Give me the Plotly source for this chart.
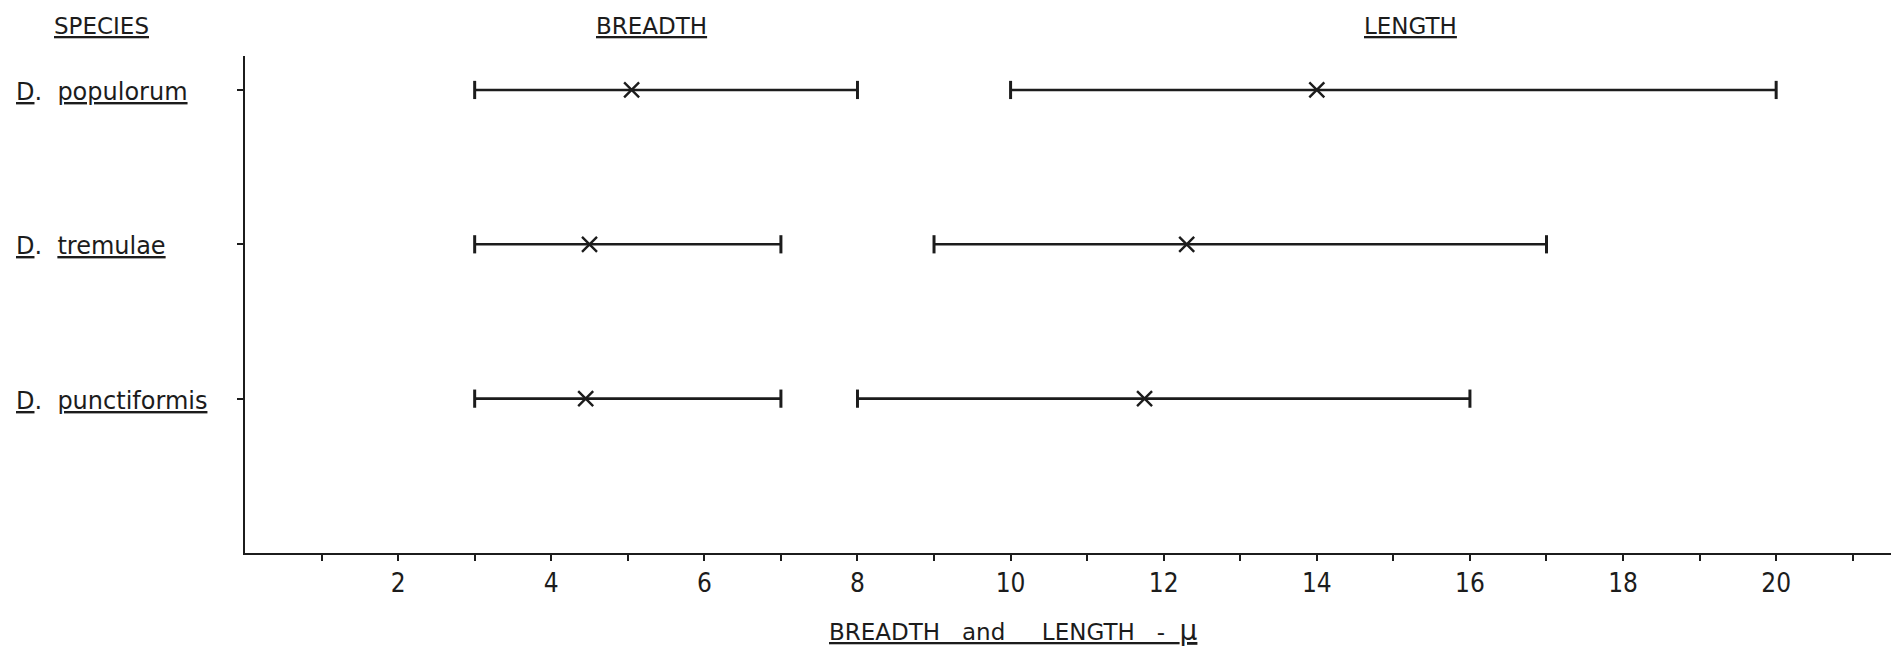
import plotly.graph_objects as go

# Spore dimensions (microns) for three Dothichiza species
species = ["populorum", "tremulae", "punctiformis"]
row_pos = [3, 2, 1]

breadth_min = [3, 3, 3]
breadth_max = [8, 7, 7]
breadth_mean = [5.05, 4.5, 4.45]

length_min = [10, 9, 8]
length_max = [20, 17, 16]
length_mean = [14, 12.3, 11.75]

x_tick_vals = list(range(1, 22))
x_tick_labels = ["", "2", "", "4", "", "6", "", "8", "", "10", "", "12",
                 "", "14", "", "16", "", "18", "", "20", ""]

FONT = "DejaVu Sans, sans-serif"
TICK_FONT = "DejaVu Sans Condensed, DejaVu Sans, sans-serif"
INK = "#1c1c1c"
NB = "\u00a0"

fig = go.Figure()

for lo_list, hi_list, mid_list in [(breadth_min, breadth_max, breadth_mean),
                                   (length_min, length_max, length_mean)]:
    for lo, hi, mid, y in zip(lo_list, hi_list, mid_list, row_pos):
        # range line with end caps
        fig.add_trace(go.Scatter(
            x=[lo, hi], y=[y, y], mode="lines+markers",
            line=dict(color=INK, width=2.6),
            marker=dict(symbol="line-ns", size=13, line=dict(color=INK, width=3)),
            hoverinfo="skip", showlegend=False, cliponaxis=False))
        # mean value
        fig.add_trace(go.Scatter(
            x=[mid], y=[y], mode="markers",
            marker=dict(symbol="x-thin", size=15, line=dict(color=INK, width=2.4)),
            hoverinfo="skip", showlegend=False, cliponaxis=False))

annotations = []
# species names on the left
for name, y in zip(species, row_pos):
    annotations.append(dict(
        text=f"<u>D</u>.{NB*2}<u>{name}</u>", x=(14 - 245) / 1646, xref="paper", y=y, yref="y",
        xanchor="left", yanchor="middle", yshift=-2, showarrow=False,
        font=dict(family=FONT, size=24, color=INK)))

# column headers
for label, xpx in [("SPECIES", 101), ("BREADTH", 651), ("LENGTH", 1410)]:
    annotations.append(dict(
        text=f"<u>{label}</u>", x=(xpx - 245) / 1646, xref="paper",
        y=(553 - 26) / 497, yref="paper", xanchor="center", yanchor="middle",
        showarrow=False, font=dict(family=FONT, size=23, color=INK)))

# axis title
annotations.append(dict(
    text=(f"<u>BREADTH{NB*3}and{NB*5}LENGTH{NB*3}-{NB*2}"
          f"<span style='font-size:28px'>\u03bc</span></u>"),
    x=(827 - 245) / 1646, xref="paper", y=(553 - 630) / 497, yref="paper",
    xanchor="left", yanchor="middle", showarrow=False,
    font=dict(family=FONT, size=23, color=INK)))

fig.update_layout(
    width=1891, height=650,
    margin=dict(l=245, r=0, t=56, b=97, pad=0),
    paper_bgcolor="white", plot_bgcolor="white",
    annotations=annotations,
    xaxis=dict(
        range=[0, 21.5], tickvals=x_tick_vals, ticktext=x_tick_labels,
        ticks="outside", ticklen=6, tickwidth=1.5, tickcolor=INK,
        showline=True, linecolor=INK, linewidth=2.2, showgrid=False, zeroline=False,
        tickfont=dict(family=TICK_FONT, size=26, color=INK), fixedrange=True),
    yaxis=dict(
        range=[0, 3.22], tickvals=row_pos, showticklabels=False,
        ticks="outside", ticklen=6, tickwidth=1.5, tickcolor=INK,
        showline=True, linecolor=INK, linewidth=2.2, showgrid=False, zeroline=False,
        fixedrange=True),
)

fig.write_html("out.html")
